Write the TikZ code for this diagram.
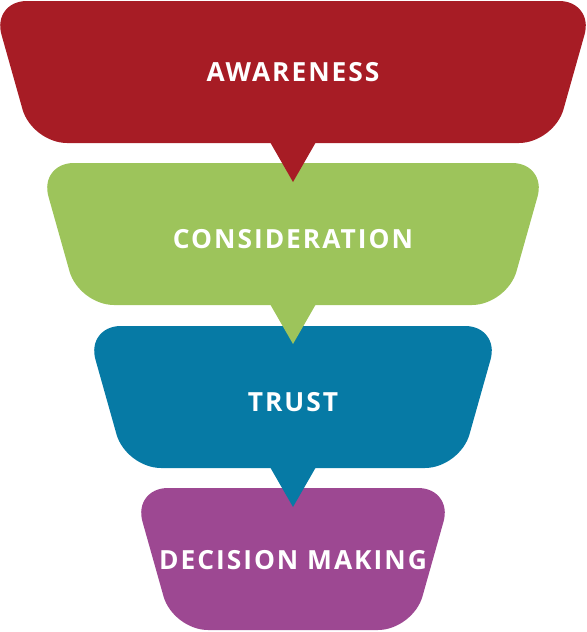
\documentclass[tikz,border=0pt]{standalone}
\usepackage{fontspec}
\newfontfamily\stagefont[LetterSpace=7.5]{Open Sans}
\definecolor{awarered}{RGB}{167, 28, 37}
\definecolor{considergreen}{RGB}{157, 196, 91}
\definecolor{trustblue}{RGB}{6, 122, 165}
\definecolor{decisionpurple}{RGB}{157, 72, 146}

\begin{document}
\begin{tikzpicture}[x=0.02cm, y=-0.02cm,
  stage/.style={rounded corners=0.7cm},
  stagetext/.style={text=white, inner sep=0pt, font=\stagefont\bfseries\fontsize{15}{18}\selectfont}]
  \useasboundingbox (0,0) rectangle (586,632);

  % stages, bottom one first so each pointer lies over the next stage
  \fill[decisionpurple, stage] (133,488) -- (453,488) -- (413,630) -- (173,630) -- cycle;
  \fill[trustblue, stage] (86,326) -- (500,326) -- (460,468) -- (126,468) -- cycle;
  \fill[trustblue] (270,467) -- (316,467) -- (293,507) -- cycle;
  \fill[considergreen, stage] (39,163) -- (547,163) -- (507,305) -- (79,305) -- cycle;
  \fill[considergreen] (270,304) -- (316,304) -- (293,344) -- cycle;
  \fill[awarered, stage] (-8,1) -- (594,1) -- (554,143) -- (32,143) -- cycle;
  \fill[awarered] (270,142) -- (316,142) -- (293,182) -- cycle;

  % labels
  \node[stagetext] (awareness) at (293,72.5) {AWARENESS};
  \node[stagetext] (consideration) at (293,239) {CONSIDERATION};
  \node[stagetext] (trust) at (293,402) {TRUST};
  \node[stagetext] (decision) at (293,560) {DECISION MAKING};
\end{tikzpicture}
\end{document}
